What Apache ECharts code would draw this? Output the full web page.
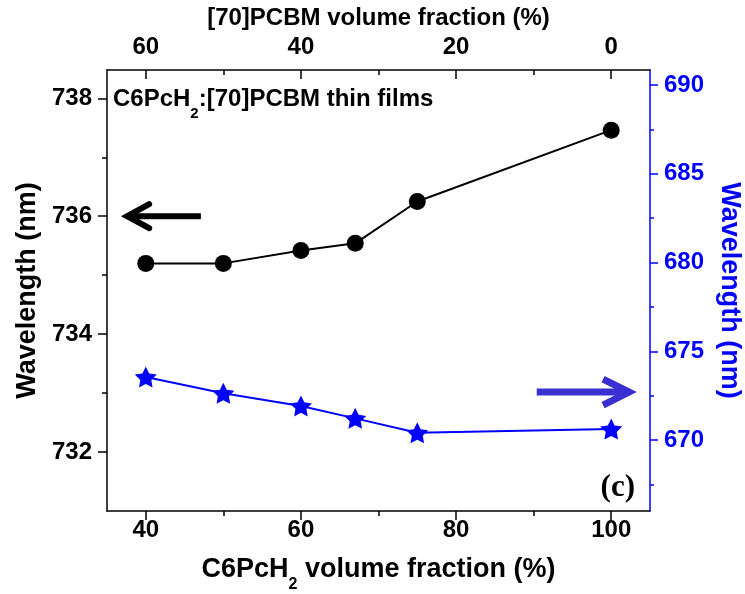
<!DOCTYPE html>
<html>
<head>
<meta charset="utf-8">
<script src="https://cdn.jsdelivr.net/npm/echarts@6/dist/echarts.min.js"></script>
<style>
html,body{margin:0;padding:0;background:#fff;}
#chart{width:745px;height:594px;}
</style>
</head>
<body>
<div id="chart"></div>
<script>
// ---- data ----
const c6VolumeFraction = [40, 50, 60, 67, 75, 100];
const wavelengthLeft = [735.2, 735.2, 735.42, 735.54, 736.25, 737.46];
const wavelengthRight = [673.55, 672.63, 671.92, 671.22, 670.41, 670.62];

const bottomMajorTicks = [40, 60, 80, 100];
const bottomMinorTicks = [50, 70, 90];
const topMajorTicks = [60, 40, 20, 0];
const topMinorTicks = [50, 30, 10];
const leftMajorTicks = [732, 734, 736, 738];
const leftMinorTicks = [733, 735, 737];
const rightMajorTicks = [670, 675, 680, 685, 690];
const rightMinorTicks = [667.5, 672.5, 677.5, 682.5, 687.5];

// annotation arrows in data space: [tailX, tipX, y]
const leftArrow = [47.1, 37.6, 736.0];
const rightArrow = [90.4, 102.3, 672.7];

const FONT = '"Liberation Sans", Arial, Helvetica, sans-serif';
const BLUE = '#0000ff';

const chart = echarts.init(document.getElementById('chart'), null, {renderer: 'canvas'});

const starPath = 'path://M0,-10 L2.94,-4.05 L9.51,-3.09 L4.76,1.55 L5.88,8.09 L0,5.0 L-5.88,8.09 L-4.76,1.55 L-9.51,-3.09 L-2.94,-4.05 Z';

function labelStyle(color, size, margin, customValues) {
  return {show: true, color: color, fontSize: size, fontWeight: 'bold', fontFamily: FONT, margin: margin, customValues: customValues};
}

const option = {
  animation: false,
  backgroundColor: '#fff',
  grid: {left: 107, right: 95, top: 70, bottom: 83, containLabel: false, outerBoundsMode: 'none'},
  xAxis: [
    { // bottom major
      type: 'value', position: 'bottom', min: 35, max: 105,
      name: '{a|C6PcH}{s|2}{a| volume fraction (%)}',
      nameLocation: 'middle', nameGap: 45,
      nameTextStyle: {
        rich: {
          a: {fontSize: 27, fontWeight: 'bold', fontFamily: FONT, color: '#000', lineHeight: 30, verticalAlign: 'top'},
          s: {fontSize: 16, fontWeight: 'bold', fontFamily: FONT, color: '#000', lineHeight: 16, padding: [21, 0, 0, 0], verticalAlign: 'top'}
        }
      },
      axisLine: {show: true, onZero: false, lineStyle: {color: '#000', width: 1.5}},
      axisTick: {show: true, inside: false, length: 9, customValues: bottomMajorTicks, lineStyle: {color: '#000', width: 1.5}},
      axisLabel: labelStyle('#000', 24, 7, bottomMajorTicks),
      splitLine: {show: false}
    },
    { // bottom minor ticks
      type: 'value', position: 'bottom', min: 35, max: 105,
      axisLine: {show: false, onZero: false},
      axisTick: {show: true, inside: false, length: 5, customValues: bottomMinorTicks, lineStyle: {color: '#000', width: 1.5}},
      axisLabel: {show: false},
      splitLine: {show: false}
    },
    { // top major
      type: 'value', position: 'top', min: -5, max: 65, inverse: true,
      name: '[70]PCBM volume fraction (%)',
      nameLocation: 'middle', nameGap: 34,
      nameTextStyle: {fontSize: 24, fontWeight: 'bold', fontFamily: FONT, color: '#000'},
      axisLine: {show: true, onZero: false, lineStyle: {color: '#000', width: 1.5}},
      axisTick: {show: true, inside: true, length: 9, customValues: topMajorTicks, lineStyle: {color: '#000', width: 1.5}},
      axisLabel: labelStyle('#000', 24, 11, topMajorTicks),
      splitLine: {show: false}
    },
    { // top minor ticks
      type: 'value', position: 'top', min: -5, max: 65, inverse: true,
      axisLine: {show: false, onZero: false},
      axisTick: {show: true, inside: true, length: 5, customValues: topMinorTicks, lineStyle: {color: '#000', width: 1.5}},
      axisLabel: {show: false},
      splitLine: {show: false}
    }
  ],
  yAxis: [
    { // left major
      type: 'value', position: 'left', min: 731, max: 738.48,
      name: 'Wavelength (nm)', nameLocation: 'middle', nameGap: 64,
      nameTextStyle: {fontSize: 27, fontWeight: 'bold', fontFamily: FONT, color: '#000'},
      axisLine: {show: true, onZero: false, lineStyle: {color: '#000', width: 1.5}},
      axisTick: {show: true, inside: false, length: 9, customValues: leftMajorTicks, lineStyle: {color: '#000', width: 1.5}},
      axisLabel: labelStyle('#000', 24, 15, leftMajorTicks),
      splitLine: {show: false}
    },
    { // left minor
      type: 'value', position: 'left', min: 731, max: 738.48,
      axisLine: {show: false, onZero: false},
      axisTick: {show: true, inside: false, length: 5, customValues: leftMinorTicks, lineStyle: {color: '#000', width: 1.5}},
      axisLabel: {show: false},
      splitLine: {show: false}
    },
    { // right major
      type: 'value', position: 'right', min: 666, max: 690.85,
      name: 'Wavelength (nm)', nameLocation: 'middle', nameGap: 66, nameRotate: -90,
      nameTextStyle: {fontSize: 27, fontWeight: 'bold', fontFamily: FONT, color: BLUE},
      axisLine: {show: true, onZero: false, lineStyle: {color: BLUE, width: 1.5}},
      axisTick: {show: true, inside: false, length: 8, customValues: rightMajorTicks, lineStyle: {color: BLUE, width: 1.5}},
      axisLabel: labelStyle(BLUE, 24, 14, rightMajorTicks),
      splitLine: {show: false}
    },
    { // right minor
      type: 'value', position: 'right', min: 666, max: 690.85,
      axisLine: {show: false, onZero: false},
      axisTick: {show: true, inside: false, length: 4, customValues: rightMinorTicks, lineStyle: {color: BLUE, width: 1.5}},
      axisLabel: {show: false},
      splitLine: {show: false}
    }
  ],
  series: [
    {
      name: 'left', type: 'line', xAxisIndex: 0, yAxisIndex: 0,
      data: c6VolumeFraction.map((x, i) => [x, wavelengthLeft[i]]),
      symbol: 'circle', symbolSize: 17,
      itemStyle: {color: '#000'},
      lineStyle: {color: '#000', width: 2},
      z: 3
    },
    {
      name: 'right', type: 'line', xAxisIndex: 0, yAxisIndex: 2,
      data: c6VolumeFraction.map((x, i) => [x, wavelengthRight[i]]),
      symbol: starPath, symbolSize: [22, 21],
      itemStyle: {color: BLUE},
      lineStyle: {color: BLUE, width: 2},
      z: 3
    }
  ],
  graphic: [
    {
      id: 'filmLabel', type: 'text', left: 113, top: 87, z: 10,
      style: {
        text: '{a|C6PcH}{s|2}{a|:[70]PCBM thin films}',
        rich: {
          a: {fontSize: 24, fontWeight: 'bold', fontFamily: FONT, fill: '#000', lineHeight: 27, verticalAlign: 'top'},
          s: {fontSize: 15, fontWeight: 'bold', fontFamily: FONT, fill: '#000', lineHeight: 15, padding: [19, 0, 0, 0], verticalAlign: 'top'}
        }
      }
    },
    {
      id: 'panelLabel', type: 'text', right: 110, top: 472, z: 10,
      style: {text: '(c)', fontSize: 31, fontWeight: 'bold', fontFamily: '"Liberation Serif", "Times New Roman", serif', fill: '#000'}
    }
  ]
};

chart.setOption(option);

function arrowGraphics(id, arrow, yAxisIndex, color, width, headLen, headHalf, cap) {
  const tail = chart.convertToPixel({xAxisIndex: 0, yAxisIndex: yAxisIndex}, [arrow[0], arrow[2]]);
  const tip = chart.convertToPixel({xAxisIndex: 0, yAxisIndex: yAxisIndex}, [arrow[1], arrow[2]]);
  const dir = tip[0] > tail[0] ? 1 : -1;
  return [
    {id: id + 'Shaft', type: 'line', z: 10,
      shape: {x1: tail[0], y1: tail[1], x2: tip[0] - dir * width * 0.6, y2: tip[1]},
      style: {stroke: color, lineWidth: width, lineCap: 'butt'}},
    {id: id + 'Head', type: 'polyline', z: 10,
      shape: {points: [[tip[0] - dir * headLen, tip[1] - headHalf], [tip[0], tip[1]], [tip[0] - dir * headLen, tip[1] + headHalf]]},
      style: {stroke: color, lineWidth: width, lineCap: cap, lineJoin: 'miter', fill: null}}
  ];
}

chart.setOption({
  graphic: [].concat(
    arrowGraphics('leftArrow', leftArrow, 0, '#000', 6, 22, 12, 'round'),
    arrowGraphics('rightArrow', rightArrow, 2, '#3a2fd0', 7, 26, 13, 'butt')
  )
});
</script>
</body>
</html>
